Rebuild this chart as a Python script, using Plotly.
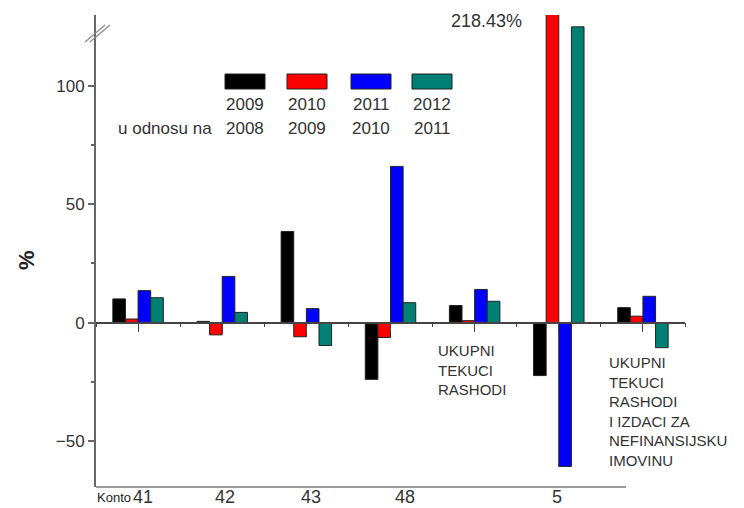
import plotly.graph_objects as go

# ---- data ----
groups = ["41", "42", "43", "48", "UKUPNI TEKUCI RASHODI", "5",
          "UKUPNI TEKUCI RASHODI I IZDACI ZA NEFINANSIJSKU IMOVINU"]
years = ["2009", "2010", "2011", "2012"]
base_years = ["2008", "2009", "2010", "2011"]
v2009 = [10.0, 0.5, 38.5, -24.0, 7.2, -22.4, 6.3]
v2010 = [1.5, -5.2, -6.0, -6.3, 0.8, 218.43, 2.7]
v2011 = [13.5, 19.5, 5.9, 66.0, 14.0, -60.8, 11.1]
v2012 = [10.5, 4.3, -9.7, 8.4, 9.0, 125.0, -10.6]
series = [v2009, v2010, v2011, v2012]
tick_labels = ["41", "42", "43", "48", "5"]
y_ticks = [-50, 0, 50, 100]

# ---- styling / layout ----
colors = ["#000000", "#ff0000", "#0000ff", "#008074"]
W, H = 744, 508
L, R, T, B = 96, 685, 15, 487
YMIN, YMAX = -69.5, 130
FONT = "Arial, Liberation Sans, sans-serif"
TXT = "#333333"

def px(xp):
    return (xp - L) / (R - L)

def py(yp):
    return (B - yp) / (B - T)

def note(xp, yp, text, size=17, xanchor="center", yanchor="middle", **kw):
    fig.add_annotation(x=px(xp), y=py(yp), xref="paper", yref="paper",
                       text=text, showarrow=False, xanchor=xanchor,
                       yanchor=yanchor, font=dict(size=size, color=kw.pop("color", TXT)),
                       **kw)

xpos = list(range(len(groups)))
fig = go.Figure()
for vals, col, yr, by in zip(series, colors, years, base_years):
    fig.add_trace(go.Bar(
        x=xpos, y=vals, name=f"{yr}/{by}",
        marker=dict(color=col, line=dict(color="#222222", width=1)),
        showlegend=False))

# invisible helper trace so the zero-level axis is drawn
fig.add_trace(go.Scatter(x=[0], y=[0], xaxis="x2", mode="markers",
                         marker=dict(opacity=0), showlegend=False,
                         hoverinfo="skip"))

fig.update_layout(
    width=W, height=H,
    margin=dict(l=L, r=W - R, t=T, b=H - B),
    paper_bgcolor="white", plot_bgcolor="white",
    barmode="group", bargap=0.4, bargroupgap=0,
    font=dict(family=FONT, size=17, color=TXT),
    xaxis=dict(range=[-0.5, 6.5], showgrid=False, zeroline=False,
               showline=False, ticks="", showticklabels=False,
               automargin=False),
    xaxis2=dict(range=[-0.5, 6.5], overlaying="x", anchor="free",
                position=(0 - YMIN) / (YMAX - YMIN), showgrid=False,
                zeroline=False, showline=True, linecolor="#444444",
                linewidth=1.5, ticks="outside", tickvals=xpos, ticklen=9,
                tickcolor="#444444", showticklabels=False, automargin=False,
                minor=dict(tickvals=[i + 0.5 for i in range(-1, 7)],
                           ticks="outside", ticklen=4, tickcolor="#444444")),
    yaxis=dict(range=[YMIN, YMAX], showgrid=False, zeroline=False,
               showline=True, linecolor="#666666", linewidth=2,
               ticks="outside", ticklen=6, tickcolor="#666666", tickwidth=1.5,
               tickvals=y_ticks, tickfont=dict(size=17, color=TXT),
               automargin=False,
               minor=dict(tickvals=[-25, 25, 75], ticks="outside",
                          ticklen=3, tickcolor="#666666")),
)

# bottom axis line (ends before the last group)
fig.add_shape(type="line", xref="x", yref="paper", x0=-0.5, x1=5.8,
              y0=0, y1=0, line=dict(color="#999999", width=2))

# bottom category labels (placed on the x scale)
label_pos = [0.06, 1.03, 2.06, 3.17, 4.98]
for lp, lab in zip(label_pos, tick_labels):
    fig.add_annotation(x=lp, y=py(497), xref="x", yref="paper", text=lab,
                       showarrow=False, xanchor="center", yanchor="middle",
                       font=dict(size=18, color=TXT))

# axis break mark
for dx in (0, 5):
    fig.add_shape(type="line", xref="paper", yref="paper",
                  x0=px(85 + dx), y0=py(42), x1=px(105 + dx), y1=py(25),
                  line=dict(color="#888888", width=1.2))

# y axis title
note(26, 260, "<b>%</b>", size=22, textangle=-90, color="#222222")

# "Konto"
note(95, 497, "Konto", size=13, xanchor="left", color="#222222")

# custom legend
leg_x = [245, 307, 371, 432]
for cx, col, yr, by in zip(leg_x, colors, years, base_years):
    fig.add_shape(type="rect", xref="paper", yref="paper",
                  x0=px(cx - 20), x1=px(cx + 20), y0=py(89), y1=py(74),
                  fillcolor=col, line=dict(color="#222222", width=1))
    note(cx, 104, yr)
    note(cx, 128, by)
note(214, 128, "u odnosu na", xanchor="right")

# value label for clipped bar
note(486, 21, f"{v2010[5]:.2f}%", size=18)

# group descriptions
note(436, 340, "UKUPNI<br>TEKUCI<br>RASHODI", size=15,
     xanchor="left", yanchor="top", align="left")
note(607, 352,
     "UKUPNI<br>TEKUCI<br>RASHODI<br>I IZDACI ZA<br>NEFINANSIJSKU<br>IMOVINU",
     size=15, xanchor="left", yanchor="top", align="left")

fig.write_html(
    "out.html",
    config={"displayModeBar": False},
    post_script=(
        "document.documentElement.style.overflow='hidden';"
        "document.body.style.margin='0';"
        "document.body.style.padding='0';"
        "document.body.style.overflow='hidden';"
    ))
